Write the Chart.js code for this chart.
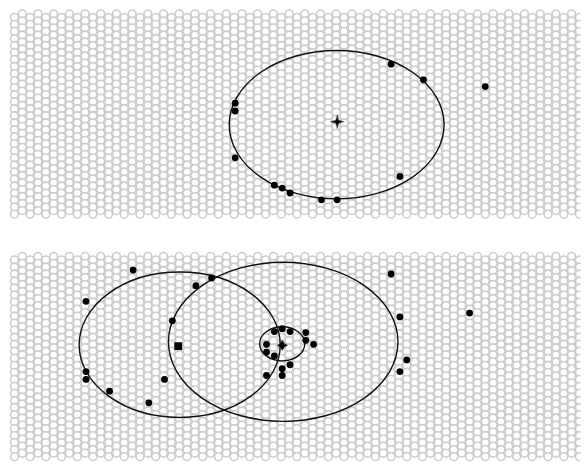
<!DOCTYPE html>
<html>
<head>
<meta charset="utf-8">
<script src="https://cdn.jsdelivr.net/npm/chart.js@4/dist/chart.umd.min.js"></script>
<style>
  body { margin: 0; background: #fff; }
  #wrap { width: 586px; height: 467px; }
</style>
</head>
<body>
<div id="wrap"><canvas id="myChart" width="586" height="467"></canvas></div>
<script>
// lattice of small hollow circles behind both panels
var latticeX0 = 9, latticeDx = 8, latticeCols = 73;
var latticeDy = 7.2, latticeRows = 29;
var panelTops = [8.5, 257];

// top panel
var topX = [393, 426, 234, 234, 234, 402, 274, 282, 290, 322, 338, 489];
var topY = [60, 76, 100, 108, 156, 175, 184, 187, 192, 199, 199, 83];
var topCenter = [{x: 338, y: 119}];

// bottom panel
var botX = [130, 82, 194, 210, 170, 82, 82, 162, 106, 146,
            274, 282, 290, 306, 306, 314, 266, 266, 274, 290, 282, 282, 266,
            393, 402, 473, 409, 402];
var botY = [271, 303, 287, 279, 323, 375, 383, 383, 395, 407,
            334, 331, 334, 335, 343, 347, 347, 355, 359, 368, 372, 379, 379,
            275, 319, 315, 363, 375];
var squareCenter = [{x: 176, y: 349}];
var diamondCenter = [{x: 282, y: 348}];

// ellipses: centre x, centre y, radius x, radius y
var ellCx = [337.5, 177.5, 283, 282];
var ellCy = [122, 347.5, 344.5, 346.5];
var ellRx = [109.5, 102.5, 117, 23];
var ellRy = [76, 74.5, 81.5, 17.5];

var lattice = [];
for (let p = 0; p < panelTops.length; p++) {
    for (let c = 0; c < latticeCols; c++) {
        let off = (c % 2 === 0) ? latticeDy / 2 : 0;
        for (let r = 0; r < latticeRows; r++) {
            lattice.push({x: latticeX0 + c * latticeDx, y: panelTops[p] + off + r * latticeDy});
        }
    }
}

function toPts(xs, ys) {
    let out = [];
    for (let i = 0; i < xs.length; i++) out.push({x: xs[i], y: ys[i]});
    return out;
}

// four pointed star marker
var star = document.createElement('canvas');
star.width = 15; star.height = 15;
var sc = star.getContext('2d');
sc.fillStyle = '#000';
sc.beginPath();
sc.moveTo(7.5, 0);
sc.lineTo(9, 6); sc.lineTo(15, 7.5); sc.lineTo(9, 9);
sc.lineTo(7.5, 15); sc.lineTo(6, 9); sc.lineTo(0, 7.5); sc.lineTo(6, 6);
sc.closePath();
sc.fill();

var smallStar = document.createElement('canvas');
smallStar.width = 11; smallStar.height = 11;
var ss = smallStar.getContext('2d');
ss.fillStyle = '#000';
ss.beginPath();
ss.moveTo(5.5, 0);
ss.lineTo(7.5, 3.5); ss.lineTo(11, 5.5); ss.lineTo(7.5, 7.5);
ss.lineTo(5.5, 11); ss.lineTo(3.5, 7.5); ss.lineTo(0, 5.5); ss.lineTo(3.5, 3.5);
ss.closePath();
ss.fill();

var ellipsePlugin = {
    id: 'ellipses',
    afterDatasetDraw: function (chart, args) {
        if (chart.data.datasets[args.index].label !== 'lattice') return;
        const xs = chart.scales.x, ys = chart.scales.y;
        const ctx = chart.ctx;
        ctx.save();
        ctx.strokeStyle = '#111';
        ctx.lineWidth = 1.4;
        for (let i = 0; i < ellCx.length; i++) {
            const cx = xs.getPixelForValue(ellCx[i]);
            const cy = ys.getPixelForValue(ellCy[i]);
            const rx = Math.abs(xs.getPixelForValue(ellCx[i] + ellRx[i]) - cx);
            const ry = Math.abs(ys.getPixelForValue(ellCy[i] + ellRy[i]) - cy);
            ctx.beginPath();
            ctx.ellipse(cx, cy, rx, ry, 0, 0, Math.PI * 2);
            ctx.stroke();
        }
        ctx.restore();
    }
};

var ctx = document.getElementById('myChart');
var myChart = new Chart(ctx, {
    type: 'scatter',
    data: {
        datasets: [{
            label: 'top',
            data: toPts(topX, topY),
            backgroundColor: '#000', borderColor: '#000',
            pointRadius: 3.4, pointBorderWidth: 0
        }, {
            label: 'bottom',
            data: toPts(botX, botY),
            backgroundColor: '#000', borderColor: '#000',
            pointRadius: 3.4, pointBorderWidth: 0
        }, {
            label: 'topCenter',
            data: topCenter,
            pointStyle: star
        }, {
            label: 'square',
            data: squareCenter,
            pointStyle: 'rect',
            backgroundColor: '#000', borderColor: '#000',
            pointRadius: 5.5, pointBorderWidth: 0
        }, {
            label: 'diamond',
            data: diamondCenter,
            pointStyle: smallStar
        }, {
            label: 'lattice',
            data: lattice,
            backgroundColor: '#fff',
            borderColor: '#cdcdcd',
            pointRadius: 3.9,
            pointBorderWidth: 1.6
        }]
    },
    options: {
        responsive: false,
        animation: false,
        events: [],
        layout: { padding: 0 },
        plugins: {
            legend: { display: false },
            tooltip: { enabled: false }
        },
        scales: {
            x: { type: 'linear', min: 0, max: 586, display: false },
            y: { type: 'linear', min: 0, max: 467, reverse: true, display: false }
        }
    },
    plugins: [ellipsePlugin]
});
</script>
</body>
</html>
